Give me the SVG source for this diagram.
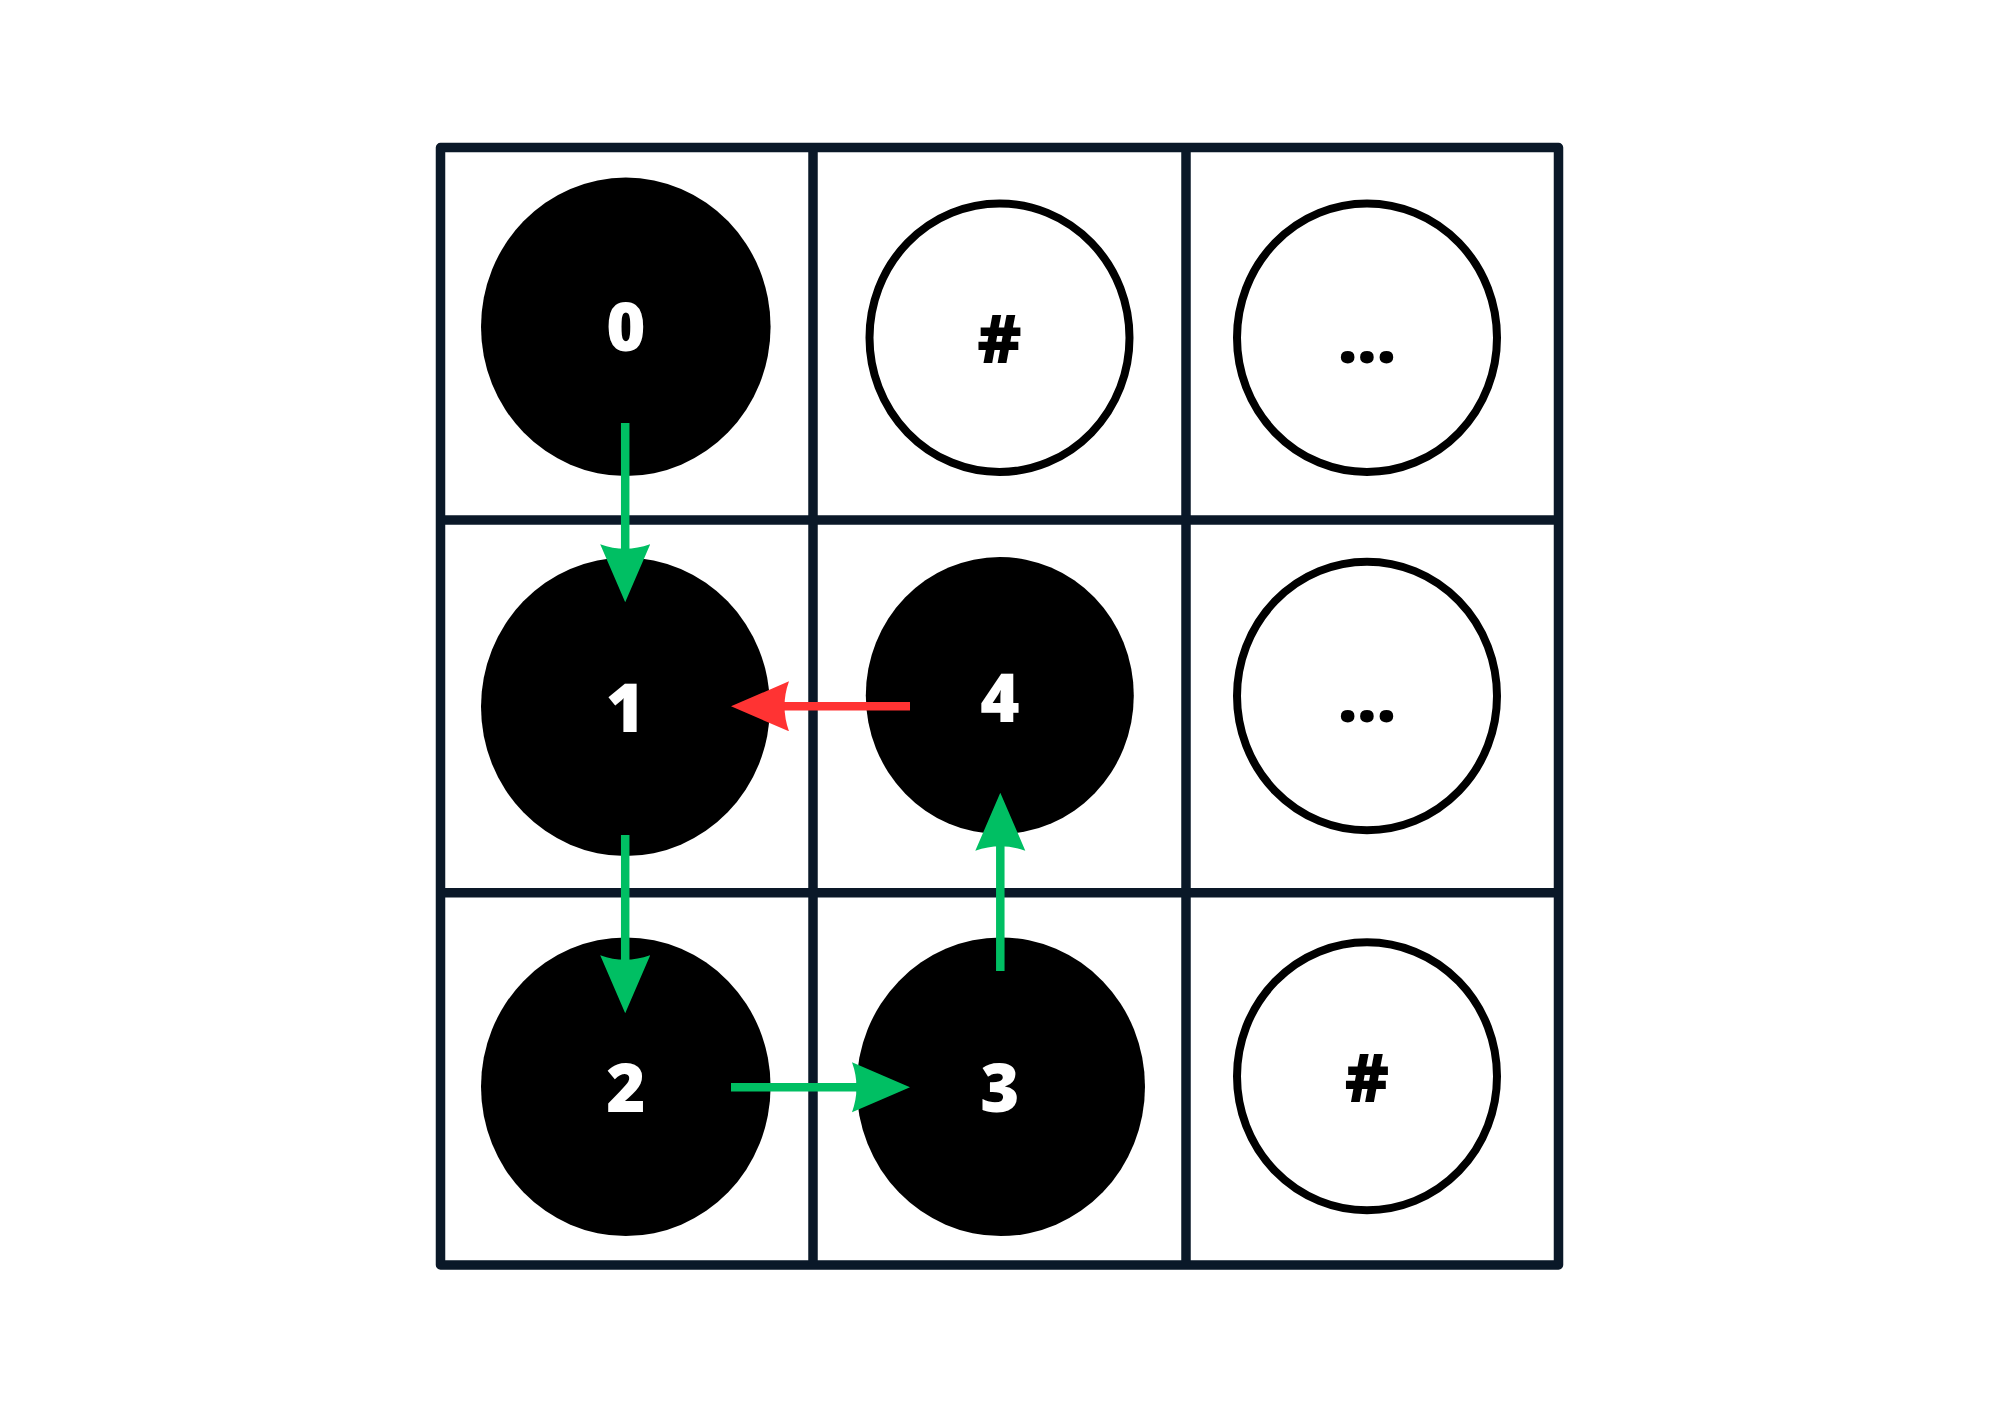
<svg xmlns="http://www.w3.org/2000/svg" width="2000" height="1414" viewBox="0 0 2000 1414">
  <defs>
    <style>
      .grid { fill: none; stroke: #0a1828; stroke-width: 9.5; stroke-linejoin: round; stroke-linecap: butt; }
      .filled { fill: #000000; }
      .open { fill: #ffffff; stroke: #000000; stroke-width: 8; }
      .lblw { font-family: "Open Sans", "Noto Sans", "Liberation Sans", sans-serif; font-weight: 800; font-size: 67px; fill: #ffffff; text-anchor: middle; }
      .lblb { font-family: "Open Sans", "Noto Sans", "Liberation Sans", sans-serif; font-weight: 800; font-size: 67px; fill: #000000; text-anchor: middle; }
      .go { stroke: #00bf63; stroke-width: 8.5; fill: none; }
      .back { stroke: #ff3333; stroke-width: 8.5; fill: none; }
    </style>
    <marker id="headG" markerUnits="userSpaceOnUse" markerWidth="60" markerHeight="52" refX="6" refY="25" orient="auto">
      <path d="M0,0 L58,25 L0,50 Q9,25 0,0 Z" fill="#00bf63"/>
    </marker>
    <marker id="headR" markerUnits="userSpaceOnUse" markerWidth="60" markerHeight="52" refX="6" refY="25" orient="auto">
      <path d="M0,0 L58,25 L0,50 Q9,25 0,0 Z" fill="#ff3333"/>
    </marker>
  </defs>
  <rect width="2000" height="1414" fill="#ffffff"/>
  <g id="grid">
    <rect class="grid" x="440.5" y="147.5" width="1118" height="1117.5"/>
    <line class="grid" x1="813" y1="147.5" x2="813" y2="1265"/>
    <line class="grid" x1="1186" y1="147.5" x2="1186" y2="1265"/>
    <line class="grid" x1="440.5" y1="520" x2="1558.5" y2="520"/>
    <line class="grid" x1="440.5" y1="892.7" x2="1558.5" y2="892.7"/>
  </g>
  <g id="node-0">
    <ellipse class="filled" cx="625.8" cy="326.8" rx="144.8" ry="149.2"/>
    <text class="lblw" x="625.8" y="351">0</text>
  </g>
  <g id="node-wall-top">
    <ellipse class="open" cx="999.5" cy="337.7" rx="130" ry="134.3"/>
    <text class="lblb" x="999.5" y="363">#</text>
  </g>
  <g id="node-more-top">
    <ellipse class="open" cx="1367" cy="337.7" rx="130" ry="134.3"/>
    <text class="lblb" x="1367" y="363">...</text>
  </g>
  <g id="node-1">
    <ellipse class="filled" cx="625.5" cy="706.8" rx="144.5" ry="149.2"/>
    <text class="lblw" x="625.5" y="731.7">1</text>
  </g>
  <g id="node-4">
    <ellipse class="filled" cx="999.8" cy="695.5" rx="134" ry="138.5"/>
    <text class="lblw" x="999.8" y="721.7">4</text>
  </g>
  <g id="node-more-mid">
    <ellipse class="open" cx="1367" cy="696" rx="130" ry="134.3"/>
    <text class="lblb" x="1367" y="722">...</text>
  </g>
  <g id="node-2">
    <ellipse class="filled" cx="625.8" cy="1086.7" rx="144.8" ry="149.3"/>
    <text class="lblw" x="625.8" y="1112">2</text>
  </g>
  <g id="node-3">
    <ellipse class="filled" cx="1000.8" cy="1086.7" rx="144.2" ry="149.3"/>
    <text class="lblw" x="1000" y="1112">3</text>
  </g>
  <g id="node-wall-bottom">
    <ellipse class="open" cx="1367" cy="1076.3" rx="130" ry="134"/>
    <text class="lblb" x="1367" y="1102">#</text>
  </g>
  <g id="connectors">
    <line class="go" x1="625.2" y1="423" x2="625.2" y2="550.3" marker-end="url(#headG)"/>
    <line class="go" x1="625.2" y1="835" x2="625.2" y2="961.3" marker-end="url(#headG)"/>
    <line class="go" x1="731" y1="1087.3" x2="858" y2="1087.3" marker-end="url(#headG)"/>
    <line class="go" x1="1000.3" y1="971" x2="1000.3" y2="844.7" marker-end="url(#headG)"/>
    <line class="back" x1="910" y1="706.3" x2="783" y2="706.3" marker-end="url(#headR)"/>
  </g>
</svg>
